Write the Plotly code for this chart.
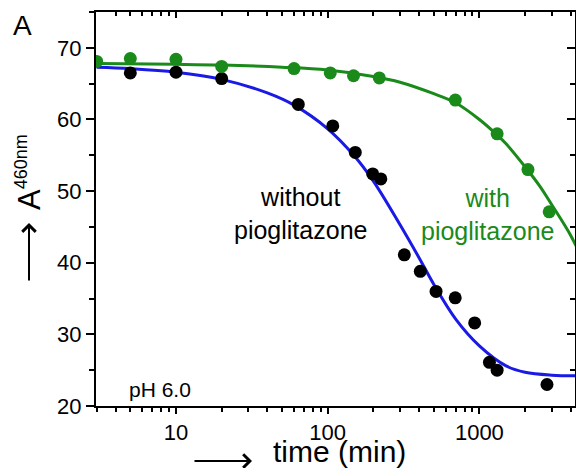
import numpy as np
import plotly.graph_objects as go

# --- data ---
t_without = [5, 10, 20, 64, 108, 152, 198, 224, 320, 408, 518, 693, 931, 1165, 1309, 2790]
a_without = [66.5, 66.6, 65.7, 62.1, 59.1, 55.4, 52.4, 51.7, 41.1, 38.8, 36.0, 35.1, 31.6, 26.1, 25.0, 23.0]

t_with = [3, 5, 10, 20, 60, 104, 148, 219, 694, 1309, 2091, 2886]
a_with = [68.1, 68.5, 68.4, 67.4, 67.1, 66.5, 66.1, 65.8, 62.7, 58.0, 53.0, 47.1]

fit_t_without = [3, 5, 10, 20, 40, 60, 100, 150, 200, 300, 400, 500, 700, 1000, 1500, 2000, 3000, 4850]
fit_a_without = [67.3, 67.1, 66.6, 65.6, 63.7, 62.0, 58.7, 54.9, 51.4, 45.3, 40.7, 37.0, 32.1, 28.4, 25.6, 24.7, 24.3, 24.2]

fit_t_with = [3, 10, 20, 50, 100, 200, 300, 500, 700, 1000, 1300, 1500, 2000, 2500, 3000, 4000, 4850]
fit_a_with = [67.8, 67.7, 67.6, 67.3, 66.9, 66.0, 65.2, 63.6, 62.3, 60.0, 57.9, 56.6, 53.4, 50.7, 48.1, 43.8, 40.2]

x_tickvals = [10, 100, 1000]
x_ticktext = ["10", "100", "1000"]
y_tickvals = [20, 30, 40, 50, 60, 70]

GREEN = "#1a8a1a"
BLUE = "#1a1ae6"
BLACK = "#000000"

# the page body adds an 8px margin on every side; keep the page free of scrollbars
W, H = 568, 460
ML, MR, MT, MB = 88, 1, 4, 62
PW = W - ML - MR   # 479
PH = H - MT - MB   # 394
DEC = 151.7        # pixels per decade in the reference


def px(x):  # reference pixel -> paper
    return (x - 96) / PW


def py(y):
    return (406 - y) / PH


x_lo = np.log10(2.97)
xr = [x_lo, x_lo + PW / DEC]
yr = [20, 75]

fig = go.Figure()
fig.add_trace(go.Scatter(x=fit_t_with, y=fit_a_with, mode="lines", line=dict(color=GREEN, width=3, shape="spline"), showlegend=False))
fig.add_trace(go.Scatter(x=fit_t_without, y=fit_a_without, mode="lines", line=dict(color=BLUE, width=3, shape="spline"), showlegend=False))
fig.add_trace(go.Scatter(x=t_without, y=a_without, mode="markers", marker=dict(color=BLACK, size=13), showlegend=False))
fig.add_trace(go.Scatter(x=t_with, y=a_with, mode="markers", marker=dict(color=GREEN, size=13), showlegend=False))
# invisible trace to carry the mirrored frame axes
fig.add_trace(go.Scatter(x=[100], y=[50], xaxis="x2", yaxis="y2", mode="markers", marker=dict(opacity=0), showlegend=False, hoverinfo="skip"))

F = "Liberation Sans, Arial, sans-serif"
tickfont = dict(family=F, size=22, color="black")

fig.update_layout(
    width=W, height=H,
    margin=dict(l=ML, r=MR, t=MT, b=MB),
    paper_bgcolor="white", plot_bgcolor="white",
    xaxis=dict(type="log", range=xr, tickvals=x_tickvals, ticktext=x_ticktext,
               ticks="outside", ticklen=6, tickwidth=2, tickcolor="black",
               showline=True, mirror=True, linecolor="black", linewidth=2, showgrid=False, zeroline=False,
               tickfont=tickfont, automargin=False,
               minor=dict(ticks="outside", ticklen=4, tickwidth=2, tickcolor="black", dtick="D1", showgrid=False)),
    yaxis=dict(range=yr, tickvals=y_tickvals, ticks="outside", ticklen=8, tickwidth=2, tickcolor="black",
               showline=True, mirror=True, linecolor="black", linewidth=2, showgrid=False, zeroline=False,
               tickfont=tickfont, automargin=False,
               minor=dict(ticks="outside", ticklen=5, tickwidth=2, tickcolor="black", dtick=5, showgrid=False)),
    xaxis2=dict(type="log", range=xr, overlaying="x", side="top", anchor="y", tickvals=x_tickvals,
                showticklabels=False, ticks="inside", ticklen=6, tickwidth=2, tickcolor="black",
                showline=False, showgrid=False, zeroline=False, automargin=False,
                minor=dict(ticks="inside", ticklen=4, tickwidth=2, tickcolor="black", dtick="D1", showgrid=False)),
    yaxis2=dict(range=yr, overlaying="y", side="right", anchor="x", tickvals=y_tickvals,
                showticklabels=False, ticks="inside", ticklen=8, tickwidth=2, tickcolor="black",
                showline=False, showgrid=False, zeroline=False, automargin=False,
                minor=dict(ticks="inside", ticklen=5, tickwidth=2, tickcolor="black", dtick=5, showgrid=False)),
    font=dict(family=F, color="black"),
)

ann = [
    dict(text="A", x=px(22), y=py(25), font=dict(size=28, family=F)),
    dict(text="A<sup><span style='font-size:18px'>460nm</span></sup>", textangle=-90,
         x=px(29), y=py(172), font=dict(size=31, family=F)),
    dict(text="time (min)", x=px(271), y=py(451), xanchor="left", font=dict(size=30, family=F)),
    dict(text="without<br>pioglitazone", x=px(300), y=py(213), font=dict(size=25, family=F)),
    dict(text="with<br>pioglitazone", x=px(487), y=py(214), font=dict(size=25, family=F, color=GREEN)),
    dict(text="pH 6.0", x=px(160), y=py(389), font=dict(size=21, family=F)),
]
for a in ann:
    a.setdefault("xanchor", "center")
    a.setdefault("yanchor", "middle")
    fig.add_annotation(xref="paper", yref="paper", showarrow=False, **a)

# arrows of the axis titles
fig.add_annotation(xref="paper", yref="paper", x=px(252), y=py(461), ax=-59, ay=0, text="",
                   showarrow=True, arrowhead=4, arrowsize=1.3, arrowwidth=2, arrowcolor="black")
fig.add_annotation(xref="paper", yref="paper", x=px(29), y=py(223), ax=0, ay=59, text="",
                   showarrow=True, arrowhead=4, arrowsize=1.3, arrowwidth=2, arrowcolor="black")

fig.write_html("out.html")
